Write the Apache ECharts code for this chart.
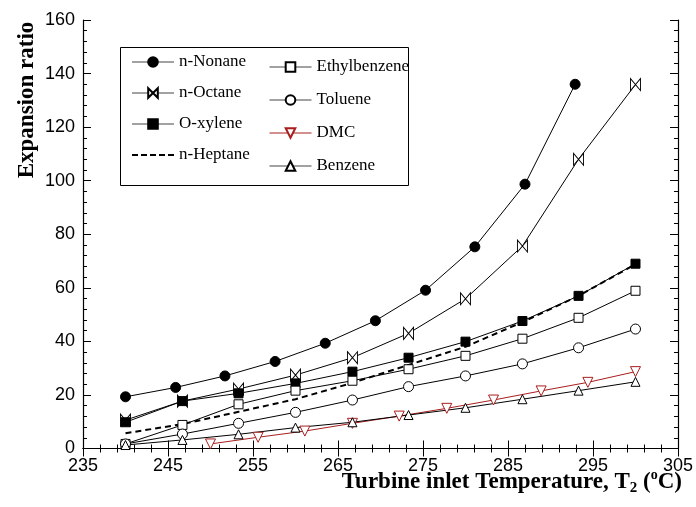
<!DOCTYPE html>
<html><head><meta charset="utf-8">
<script src="https://cdn.jsdelivr.net/npm/echarts@6/dist/echarts.min.js"></script>
<style>html,body{margin:0;padding:0;background:#fff}#c{width:696px;height:507px}</style>
</head><body><div id="c"></div>
<script>
// Temperatures (x) for each group of series
const tMain   = [240, 246.7, 253.3, 260, 266.7, 273.3, 280, 286.7, 293.3, 300];
const tNonane = [240, 245.9, 251.7, 257.6, 263.5, 269.4, 275.3, 281.1, 287.0, 292.9];
const tDMC    = [250, 255.6, 261.1, 266.7, 272.2, 277.8, 283.3, 288.9, 294.4, 300];
// Expansion ratio values
const nonane       = [19.3, 22.8, 27.1, 32.5, 39.3, 47.7, 59.1, 75.3, 98.7, 136.0];
const octane       = [10.6, 17.7, 22.2, 27.4, 33.9, 43.0, 55.9, 75.6, 108.0, 135.9];
const oxylene      = [9.8, 17.7, 20.6, 24.3, 28.7, 33.9, 39.9, 47.6, 57.0, 69.0];
const heptane      = [5.7, 9.1, 13.7, 18.4, 24.5, 31.2, 38.0, 47.2, 57.0, 68.8];
const ethylbenzene = [1.7, 8.8, 16.5, 21.6, 25.3, 29.6, 34.6, 41.0, 48.8, 58.9];
const toluene      = [1.7, 5.4, 9.4, 13.5, 18.1, 23.1, 27.1, 31.6, 37.6, 44.6];
const dmc          = [1.7, 4.2, 6.5, 9.4, 12.1, 15.0, 18.1, 21.5, 24.7, 28.7];
const benzene      = [1.3, 3.2, 5.3, 7.8, 9.8, 12.5, 15.2, 18.4, 21.6, 24.9];
// Axis ranges
const xMin = 235, xMax = 305, xStep = 10;
const yMin = 0, yMax = 160, yStep = 20;

const pair = (xs, ys) => xs.map((x, i) => [x, ys[i]]);
const BOWTIE = 'path://M0,0L10,12L10,0L0,12Z';
const DTRI = 'path://M0,0L10,0L5,9Z';
const RED = '#a81e1e';

function mk(name, xs, ys, symbol, size, fill, color, extra) {
  return Object.assign({
    name, type: 'line', data: pair(xs, ys), symbol, symbolSize: size,
    lineStyle: { color: color, width: 1 },
    itemStyle: { color: fill, borderColor: color, borderWidth: 1 },
    emphasis: { disabled: true }, animation: false, z: 3
  }, extra || {});
}

const chart = echarts.init(document.getElementById('c'));
const axisCommon = {
  type: 'value',
  axisLine: { show: true, lineStyle: { color: '#000', width: 1.2 } },
  axisTick: { show: true, inside: true, length: 8, lineStyle: { color: '#000' } },
  minorTick: { show: true, splitNumber: 5, length: 4, lineStyle: { color: '#000' } },
  splitLine: { show: false }, minorSplitLine: { show: false }
};
const labelFont = { color: '#000', fontSize: 18, fontFamily: 'Liberation Sans, Arial, sans-serif' };
const legendText = { color: '#000', fontSize: 17, fontFamily: 'Liberation Serif, Times New Roman, serif', lineHeight: 20 };
const legendLine = { width: 1, color: '#444' };

chart.setOption({
  animation: false,
  backgroundColor: '#fff',
  grid: { left: 83, right: 16, top: 20, bottom: 58.5, containLabel: false },
  xAxis: [
    Object.assign({}, axisCommon, { position: 'bottom', min: xMin, max: xMax, interval: xStep,
      axisLabel: Object.assign({ margin: 9 }, labelFont) }),
    Object.assign({}, axisCommon, { position: 'top', min: xMin, max: xMax, interval: xStep,
      axisLabel: { show: false } })
  ],
  yAxis: [
    Object.assign({}, axisCommon, { position: 'left', min: yMin, max: yMax, interval: yStep,
      axisLabel: Object.assign({ margin: 8 }, labelFont) }),
    Object.assign({}, axisCommon, { position: 'right', min: yMin, max: yMax, interval: yStep,
      axisLabel: { show: false } })
  ],
  legend: [
    { data: ['n-Nonane', 'n-Octane', 'O-xylene',
             { name: 'n-Heptane', lineStyle: { width: 2, color: '#000', type: [6, 3] },
               itemStyle: { color: 'rgba(0,0,0,0)', borderColor: 'rgba(0,0,0,0)', opacity: 0 } }],
      orient: 'vertical', padding: 0, lineStyle: legendLine,
      left: 131, top: 52, itemWidth: 42, itemHeight: 12, itemGap: 11, selectedMode: false,
      textStyle: legendText },
    { data: ['Ethylbenzene', 'Toluene', { name: 'DMC', lineStyle: { width: 1, color: RED } }, 'Benzene'],
      orient: 'vertical', padding: 0, lineStyle: legendLine,
      left: 269, top: 57, itemWidth: 42, itemHeight: 12, itemGap: 13, selectedMode: false,
      textStyle: legendText }
  ],
  graphic: [
    { type: 'rect', shape: { x: 120.5, y: 47.5, width: 288, height: 138 },
      style: { fill: '#fff', stroke: '#000', lineWidth: 1 }, z: 1 },
    { type: 'text', x: 682, y: 482, z: 10,
      style: { text: 'Turbine inlet Temperature, T{sub|2} ({sup|o}C)', textAlign: 'right', textVerticalAlign: 'middle',
        fontSize: 23, fontWeight: 'bold', fontFamily: 'Liberation Serif, Times New Roman, serif', fill: '#000',
        lineHeight: 28,
        rich: {
          sub: { fontSize: 15, fontWeight: 'bold', fontFamily: 'Liberation Serif', verticalAlign: 'bottom', lineHeight: 28 },
          sup: { fontSize: 14, fontWeight: 'bold', fontFamily: 'Liberation Serif', verticalAlign: 'top', lineHeight: 28 }
        } } },
    { type: 'text', x: 27, y: 100, rotation: Math.PI / 2, z: 10,
      style: { text: 'Expansion ratio', textAlign: 'center', textVerticalAlign: 'middle',
        fontSize: 23, fontWeight: 'bold', fontFamily: 'Liberation Serif, Times New Roman, serif', fill: '#000' } }
  ],
  series: [
    mk('n-Nonane', tNonane, nonane, 'circle', 10, '#000', '#000'),
    mk('n-Octane', tMain, octane, BOWTIE, [10, 12], '#fff', '#000'),
    mk('O-xylene', tMain, oxylene, 'rect', 9, '#000', '#000'),
    mk('n-Heptane', tMain, heptane, 'none', 0, '#000', '#000',
      { lineStyle: { color: '#000', width: 2, type: [6, 4] }, smooth: false }),
    mk('Ethylbenzene', tMain, ethylbenzene, 'rect', 9, '#fff', '#000'),
    mk('Toluene', tMain, toluene, 'circle', 10, '#fff', '#000'),
    mk('DMC', tDMC, dmc, DTRI, 10, '#fff', RED),
    mk('Benzene', tMain, benzene, 'triangle', 9, '#fff', '#000')
  ]
});
</script></body></html>
